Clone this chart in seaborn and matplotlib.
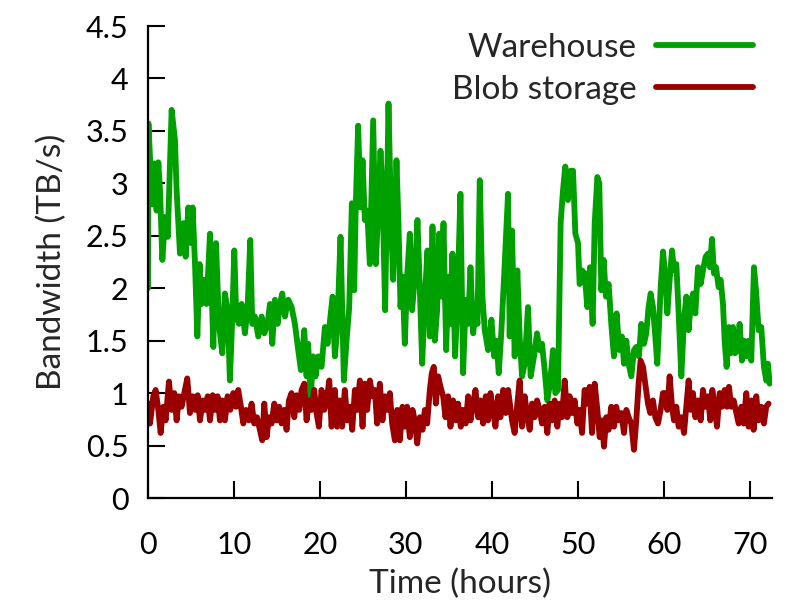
import matplotlib
matplotlib.use("Agg")
import matplotlib.pyplot as plt
import seaborn as sns
import pandas as pd

# Warehouse bandwidth (TB/s) over time (hours)
wh_hours = [0.0, 0.05, 0.23, 0.5, 0.74, 1.0, 1.2, 1.4, 1.67, 2.0,
            2.3, 2.75, 3.14, 3.33, 3.72, 4.11, 4.38, 4.69, 5.0, 5.19,
            5.47, 5.74, 6.0, 6.24, 6.55, 6.82, 7.21, 7.6, 7.91, 8.26,
            8.64, 8.95, 9.26, 9.53, 9.81, 10.04, 10.27, 10.58, 10.89, 11.28,
            11.59, 11.9, 12.13, 12.44, 12.83, 13.22, 13.53, 13.91, 14.19, 14.46,
            14.77, 15.08, 15.35, 15.62, 15.93, 16.32, 16.71, 17.09, 17.48, 17.79,
            18.18, 18.45, 18.64, 18.91, 19.22, 19.5, 19.81, 20.19, 20.58, 20.89,
            21.47, 21.74, 22.01, 22.4, 22.79, 23.1, 23.41, 23.72, 23.99, 24.18,
            24.45, 24.73, 24.96, 25.23, 25.5, 25.81, 26.2, 26.51, 26.78, 27.05,
            27.28, 27.59, 27.98, 28.29, 28.52, 28.91, 29.14, 29.38, 29.61, 29.88,
            30.15, 30.46, 30.73, 31.04, 31.35, 31.63, 31.9, 32.21, 32.52, 32.79,
            33.1, 33.37, 33.64, 33.87, 34.14, 34.38, 34.69, 34.96, 35.19, 35.42,
            35.73, 36.0, 36.35, 36.66, 36.97, 37.25, 37.52, 37.83, 38.14, 38.33,
            38.6, 38.91, 39.18, 39.57, 39.96, 40.27, 40.54, 40.81, 41.12, 41.43,
            41.89, 42.08, 42.35, 42.66, 42.97, 43.24, 43.52, 43.83, 44.21, 44.52,
            44.91, 45.26, 45.57, 45.84, 46.15, 46.46, 46.77, 47.12, 47.39, 47.7,
            48.01, 48.28, 48.55, 48.86, 49.17, 49.45, 49.72, 50.03, 50.22, 50.49,
            50.8, 51.11, 51.42, 51.73, 51.97, 52.28, 52.51, 52.74, 53.01, 53.28,
            53.59, 53.9, 54.21, 54.52, 54.83, 55.14, 55.38, 55.65, 55.92, 56.23,
            56.54, 56.81, 57.12, 57.39, 57.7, 57.97, 58.24, 58.48, 58.75, 59.02,
            59.25, 59.65, 59.92, 60.19, 60.42, 60.69, 60.97, 61.2, 61.47, 61.74,
            62.05, 62.36, 62.63, 62.9, 63.14, 63.41, 63.68, 63.99, 64.3, 64.57,
            64.88, 65.15, 65.38, 65.62, 65.85, 66.08, 66.39, 66.62, 66.9, 67.09,
            67.32, 67.59, 67.79, 68.06, 68.29, 68.56, 68.83, 69.1, 69.34, 69.61,
            69.88, 70.19, 70.5, 70.77, 71.04, 71.35, 71.66, 71.93, 72.13, 72.32]
wh_bw = [2.0, 3.57, 3.25, 2.8, 3.19, 2.74, 3.2, 2.93, 2.27, 2.68,
         2.49, 3.7, 3.41, 2.93, 2.33, 2.62, 2.3, 2.77, 2.43, 2.77,
         2.23, 1.54, 2.23, 1.85, 2.08, 1.85, 2.52, 1.44, 2.43, 1.66,
         1.38, 1.95, 1.79, 1.12, 1.73, 2.36, 1.73, 1.66, 1.85, 1.57,
         1.82, 2.46, 1.66, 1.73, 1.54, 1.73, 1.57, 1.66, 1.85, 1.47,
         1.89, 1.66, 1.85, 1.95, 1.73, 1.89, 1.82, 1.66, 1.41, 1.22,
         1.6, 1.16, 1.47, 0.93, 1.35, 1.16, 1.35, 1.25, 1.63, 1.47,
         1.92, 1.35, 1.6, 2.49, 1.12, 1.5, 1.82, 2.81, 1.98, 2.81,
         3.55, 2.77, 3.22, 2.65, 2.74, 2.23, 3.6, 2.23, 2.74, 3.31,
         2.93, 1.79, 3.76, 2.62, 2.08, 3.22, 2.62, 1.82, 2.11, 1.47,
         2.11, 2.52, 1.79, 2.11, 2.65, 1.98, 1.28, 1.92, 2.36, 1.54,
         2.59, 1.5, 1.79, 2.52, 1.92, 2.62, 1.41, 2.11, 1.66, 2.33,
         1.35, 1.89, 2.9, 1.19, 1.89, 1.66, 2.2, 1.57, 1.82, 1.66,
         3.03, 1.92, 1.6, 1.41, 1.7, 1.35, 1.5, 1.19, 1.6, 2.11,
         2.9, 1.54, 2.55, 1.35, 2.17, 1.54, 1.16, 1.28, 1.82, 1.16,
         1.35, 1.57, 1.41, 1.47, 1.22, 0.93, 1.09, 1.41, 1.0, 1.03,
         2.62, 2.93, 3.16, 2.84, 3.12, 3.12, 2.52, 2.43, 2.04, 2.17,
         2.14, 1.82, 2.2, 1.66, 2.62, 3.06, 3.0, 1.98, 2.27, 1.92,
         2.04, 1.66, 1.35, 1.76, 1.41, 1.54, 1.28, 1.5, 1.28, 1.16,
         1.41, 1.44, 1.35, 1.66, 1.47, 1.57, 1.82, 1.95, 1.82, 1.54,
         1.28, 2.01, 2.35, 2.11, 1.76, 2.08, 2.36, 2.17, 2.23, 1.76,
         1.16, 1.7, 1.92, 1.6, 1.85, 1.95, 1.76, 2.2, 2.04, 2.17,
         2.3, 2.33, 2.2, 2.47, 2.14, 2.2, 2.01, 2.08, 1.85, 1.5,
         1.25, 1.63, 1.38, 1.63, 1.38, 1.41, 1.66, 1.31, 1.5, 1.35,
         1.5, 1.31, 2.2, 1.95, 1.6, 1.63, 1.25, 1.12, 1.28, 1.09]

# Blob storage bandwidth (TB/s)
blob_hours = [0.0, 0.12, 0.23, 0.62, 0.89, 1.2, 1.47, 1.78, 2.05, 2.44,
              2.75, 3.06, 3.33, 3.6, 3.91, 4.22, 4.57, 4.88, 5.19, 5.47,
              5.78, 6.05, 6.36, 6.63, 6.94, 7.21, 7.52, 7.79, 8.1, 8.37,
              8.64, 8.95, 9.26, 9.57, 9.92, 10.23, 10.5, 10.81, 11.09, 11.4,
              11.74, 12.05, 12.36, 12.67, 13.02, 13.29, 13.53, 13.8, 14.07, 14.38,
              14.69, 14.96, 15.27, 15.54, 15.85, 16.12, 16.4, 16.7, 17.02, 17.29,
              17.6, 17.87, 18.18, 18.45, 18.72, 19.03, 19.34, 19.61, 19.88, 20.19,
              20.5, 20.78, 21.09, 21.36, 21.74, 22.01, 22.32, 22.59, 22.9, 23.18,
              23.49, 23.76, 24.07, 24.34, 24.65, 24.96, 25.23, 25.5, 25.81, 26.12,
              26.39, 26.66, 26.97, 27.28, 27.56, 27.83, 28.14, 28.41, 28.72, 28.99,
              29.3, 29.61, 29.88, 30.15, 30.46, 30.77, 31.04, 31.32, 31.63, 31.94,
              32.21, 32.48, 32.79, 33.02, 33.25, 33.49, 33.76, 34.03, 34.34, 34.61,
              34.92, 35.19, 35.5, 35.81, 36.08, 36.39, 36.66, 36.97, 37.25, 37.52,
              37.83, 38.1, 38.41, 38.68, 38.99, 39.3, 39.57, 39.84, 40.15, 40.42,
              40.73, 41.0, 41.32, 41.62, 41.9, 42.35, 42.66, 42.97, 43.24, 43.52,
              43.83, 44.14, 44.41, 44.68, 44.99, 45.26, 45.57, 45.84, 46.15, 46.46,
              46.73, 47.0, 47.31, 47.62, 47.9, 48.17, 48.48, 48.79, 49.06, 49.33,
              49.64, 49.95, 50.22, 50.5, 50.8, 51.11, 51.38, 51.66, 51.97, 52.28,
              52.55, 52.82, 53.05, 53.32, 53.59, 53.9, 54.21, 54.48, 54.76, 55.07,
              55.38, 55.65, 55.92, 56.23, 56.54, 56.81, 57.08, 57.31, 57.59, 57.86,
              58.17, 58.44, 58.75, 59.02, 59.33, 59.64, 59.91, 60.11, 60.42, 60.69,
              60.97, 61.2, 61.47, 61.74, 62.05, 62.36, 62.63, 62.9, 63.14, 63.41,
              63.68, 63.99, 64.3, 64.57, 64.84, 65.15, 65.42, 65.66, 65.93, 66.2,
              66.51, 66.78, 67.09, 67.36, 67.59, 67.86, 68.14, 68.45, 68.72, 69.03,
              69.3, 69.61, 69.88, 70.19, 70.46, 70.77, 71.04, 71.35, 71.66, 71.93,
              72.2]
blob_bw = [0.77, 0.9, 0.71, 0.97, 1.03, 0.84, 0.62, 0.87, 0.74, 1.11,
           0.84, 1.0, 0.74, 0.97, 0.87, 1.0, 1.14, 0.81, 0.97, 0.84,
           0.98, 0.74, 0.93, 0.84, 0.97, 0.74, 0.98, 0.84, 0.97, 0.74,
           0.93, 0.74, 0.97, 0.84, 1.0, 0.87, 1.03, 0.87, 0.71, 0.84,
           0.74, 0.9, 0.71, 0.77, 0.65, 0.55, 0.9, 0.58, 0.77, 0.71,
           0.9, 0.74, 0.87, 0.71, 0.84, 0.65, 0.93, 1.0, 0.77, 0.98,
           0.84, 1.03, 1.09, 0.74, 0.93, 0.84, 1.03, 0.81, 0.68, 1.03,
           0.84, 0.93, 1.12, 0.68, 1.03, 0.68, 0.93, 0.68, 1.03, 0.74,
           0.87, 0.65, 1.03, 0.84, 1.12, 0.68, 1.09, 0.84, 1.12, 0.97,
           1.03, 0.71, 1.09, 0.74, 0.97, 0.84, 1.0, 0.71, 0.55, 0.84,
           0.55, 0.87, 0.68, 0.87, 0.58, 0.84, 0.74, 0.52, 0.77, 0.65,
           0.84, 0.71, 1.03, 1.19, 1.25, 0.9, 1.16, 1.06, 0.97, 0.77,
           0.97, 0.68, 0.93, 0.74, 0.9, 0.68, 0.84, 0.71, 0.97, 0.74,
           0.9, 1.03, 0.77, 0.93, 0.71, 0.97, 0.74, 1.0, 0.84, 0.68,
           0.97, 0.77, 1.03, 0.81, 1.03, 0.74, 0.62, 0.9, 1.12, 0.68,
           0.97, 0.77, 0.65, 0.9, 0.77, 0.93, 0.84, 0.71, 0.87, 0.62,
           0.9, 0.74, 0.93, 0.68, 0.9, 0.77, 1.12, 0.77, 0.97, 0.81,
           0.93, 0.71, 0.84, 0.62, 1.03, 0.9, 1.06, 0.62, 1.09, 0.84,
           0.58, 0.74, 0.49, 0.77, 0.65, 0.87, 0.68, 0.87, 0.74, 0.81,
           0.62, 0.84, 0.77, 0.71, 0.46, 0.74, 1.09, 1.31, 1.25, 1.09,
           0.9, 0.81, 0.93, 0.77, 0.71, 0.84, 1.0, 1.0, 0.84, 1.16,
           0.87, 0.74, 0.87, 0.68, 0.77, 0.62, 0.87, 1.12, 0.84, 1.0,
           0.77, 0.93, 0.74, 1.03, 0.87, 0.97, 0.74, 1.03, 0.87, 0.68,
           1.0, 0.87, 1.03, 0.87, 1.06, 0.87, 0.93, 0.81, 0.71, 0.87,
           0.71, 1.0, 0.68, 0.93, 0.65, 0.97, 0.74, 0.87, 0.71, 0.87,
           0.9]

series_names = ["Warehouse", "Blob storage"]
series_colors = ["#00a000", "#9a0000"]
x_ticks = [0, 10, 20, 30, 40, 50, 60, 70]
y_ticks = [0, 0.5, 1, 1.5, 2, 2.5, 3, 3.5, 4, 4.5]
y_tick_labels = ["0", "0.5", "1", "1.5", "2", "2.5", "3", "3.5", "4", "4.5"]

df = pd.concat([
    pd.DataFrame({"hours": wh_hours, "bw": wh_bw, "series": series_names[0]}),
    pd.DataFrame({"hours": blob_hours, "bw": blob_bw, "series": series_names[1]}),
])

sns.set_theme(style="ticks")
plt.rcParams["font.family"] = ["Lato", "DejaVu Sans"]

fig = plt.figure(figsize=(7.94, 6.05), dpi=100)
ax = fig.add_axes([148 / 794, 1 - 498 / 605, (772 - 148) / 794, (498 - 26) / 605])

sns.lineplot(data=df, x="hours", y="bw", hue="series", hue_order=series_names,
             palette=series_colors, estimator=None, sort=False, lw=4.2, ax=ax)

ax.set_xlim(0, 72.6)
ax.set_ylim(0, 4.5)
ax.set_xticks(x_ticks)
ax.set_yticks(y_ticks)
ax.set_yticklabels(y_tick_labels)
ax.tick_params(direction="in", length=12, width=1.5, labelsize=22, colors="black")
ax.tick_params(axis="y", pad=14)
ax.tick_params(axis="x", pad=24)
ax.set_xlabel("Time (hours)", fontsize=24, labelpad=7)
ax.set_ylabel("Bandwidth (TB/s)", fontsize=24, labelpad=13)
for side in ["top", "right"]:
    ax.spines[side].set_visible(False)
for side in ["left", "bottom"]:
    ax.spines[side].set_linewidth(1.6)
    ax.spines[side].set_color("black")

handles, labels = ax.get_legend_handles_labels()
ax.legend(handles, labels, markerfirst=False, frameon=False, fontsize=24,
          loc="upper right", bbox_to_anchor=(0.9696, 0.985), borderaxespad=0,
          borderpad=0, handlelength=2.9, handletextpad=0.6, labelspacing=0.36)

fig.savefig("out.png", dpi=100)
